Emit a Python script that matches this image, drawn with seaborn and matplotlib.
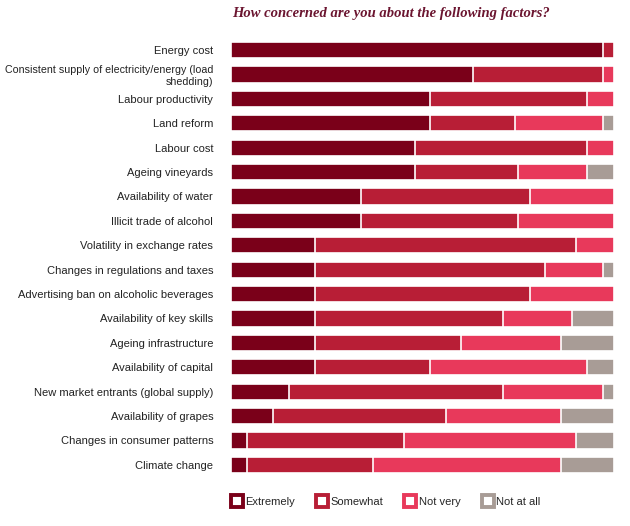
import numpy as np
import pandas as pd
import matplotlib
matplotlib.use("Agg")
import matplotlib.pyplot as plt
from matplotlib.lines import Line2D
import seaborn as sns

factors = [
    "Energy cost",
    "Consistent supply of electricity/energy (load\nshedding)",
    "Labour productivity",
    "Land reform",
    "Labour cost",
    "Ageing vineyards",
    "Availability of water",
    "Illicit trade of alcohol",
    "Volatility in exchange rates",
    "Changes in regulations and taxes",
    "Advertising ban on alcoholic beverages",
    "Availability of key skills",
    "Ageing infrastructure",
    "Availability of capital",
    "New market entrants (global supply)",
    "Availability of grapes",
    "Changes in consumer patterns",
    "Climate change",
]
extremely = [97, 63, 52, 52, 48, 48, 34, 34, 22, 22, 22, 22, 22, 22, 15, 11, 4, 4]
somewhat = [3, 34, 41, 22, 45, 27, 44, 41, 68, 60, 56, 49, 38, 30, 56, 45, 41, 33]
not_very = [0, 3, 7, 23, 7, 18, 22, 25, 10, 15, 22, 18, 26, 41, 26, 30, 45, 49]
not_at_all = [0, 0, 0, 3, 0, 7, 0, 0, 0, 3, 0, 11, 14, 7, 3, 14, 10, 14]

levels = ["Extremely", "Somewhat", "Not very", "Not at all"]
colors = ["#7a0019", "#b81e36", "#e8395b", "#a89c96"]

df = pd.DataFrame({
    "factor": factors,
    "Extremely": extremely,
    "Somewhat": somewhat,
    "Not very": not_very,
    "Not at all": not_at_all,
})
cum = df[levels].cumsum(axis=1)

sns.set_theme(style="white")
plt.rcParams["font.family"] = ["Liberation Sans", "DejaVu Sans"]

fig = plt.figure(figsize=(6.3, 5.26), dpi=100)
ax = fig.add_axes([0.367, 0.093, 0.608, 0.835])

# stacked bars: draw cumulative totals from the outside in
for lvl, col in reversed(list(zip(levels, colors))):
    sns.barplot(x=cum[lvl], y=df["factor"], color=col, orient="h",
                width=0.66, edgecolor="white", linewidth=1.2,
                saturation=1, ax=ax)

ax.set_xlim(0, 100)
ax.set_xlabel("")
ax.set_ylabel("")
ax.set_xticks([])
sns.despine(ax=ax, left=True, bottom=True)
ax.tick_params(axis="y", length=0, pad=13, labelsize=8, labelcolor="#222222")
for t in ax.get_yticklabels():
    t.set_horizontalalignment("right")
    if t.get_text().startswith("Consistent"):
        t.set_fontsize(7.7)

fig.text(0.368, 0.975, "How concerned are you about the following factors?",
         family=["Liberation Serif", "DejaVu Serif"], style="italic",
         weight="bold", fontsize=10.5, color="#6b1530", va="center")

handles = [Line2D([], [], marker="s", linestyle="none", markersize=8.5,
                  markerfacecolor="white", markeredgecolor=c,
                  markeredgewidth=2.8) for c in colors]
fig.legend(handles, levels, loc="center left", bbox_to_anchor=(0.351, 0.045),
           ncol=4, frameon=False, fontsize=8, handletextpad=0.3,
           columnspacing=1.9, handlelength=1.0)

fig.savefig("out.png", dpi=100)
